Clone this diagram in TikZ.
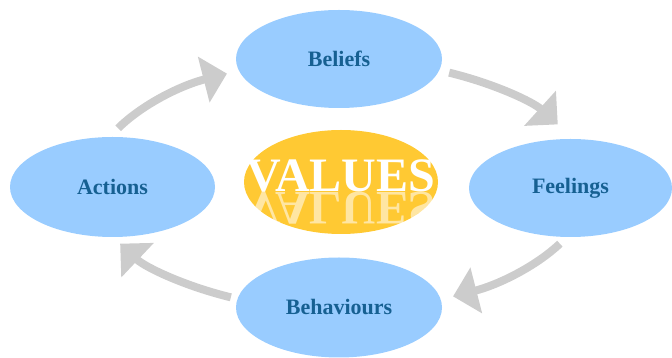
\documentclass[tikz,border=0pt]{standalone}
\usepackage{fontspec}
\setmainfont{Liberation Serif}
\usetikzlibrary{shapes.geometric,arrows.meta,calc,fadings}
\definecolor{boxblue}{RGB}{153,204,255}
\definecolor{lbltext}{RGB}{22,96,146}
\definecolor{valgold}{RGB}{255,201,51}
\definecolor{arrowgray}{RGB}{204,204,204}
\tikzset{
  stage/.style={ellipse, fill=boxblue, draw=none, inner sep=0pt, text=lbltext,
    font=\fontsize{22}{24}\selectfont\bfseries},
  cyc/.style={draw=arrowgray, line width=8pt, -{Triangle[length=24pt,width=46pt]}},
  valtext/.style={text=white, inner sep=0pt, font=\fontsize{48}{50}\selectfont\bfseries}
}
\begin{document}
\begin{tikzpicture}[x=1pt,y=1pt]
\useasboundingbox (0,0) rectangle (672,358);
% ring of stages
\node[stage, minimum width=206pt, minimum height=98pt] (beliefs) at (339,299) {Beliefs};
\node[stage, minimum width=205pt, minimum height=100pt] (actions) at (112.5,171) {Actions};
\node[stage, minimum width=203pt, minimum height=98pt] (feelings) at (570.5,170) {Feelings};
\node[stage, minimum width=206pt, minimum height=100pt] (behaviours) at (339,50.5) {Behaviours};
% centre
\node[ellipse, fill=valgold, inner sep=0pt, minimum width=194pt, minimum height=104pt] (values) at (341,176) {};
\coordinate (base) at (341,166);
\node[valtext, anchor=base] (valmain) at (base) {VALUES};
\begin{scope}[scope fading=south, fading transform={shift={(341,150)}, xscale=2.4, yscale=0.32}]
\node[valtext, anchor=north, text opacity=0.55] (valrefl) at (base) {\scalebox{1}[-1]{VALUES}};
\end{scope}
% cycle arrows (arcs of a common ellipse round the centre)
\coordinate (ctr) at (340,173);
\coordinate (a1) at ($(ctr)+(153:249 and 125)$);
\coordinate (a2) at ($(ctr)+(64:249 and 125)$);
\coordinate (a3) at ($(ctr)+(-28:249 and 125)$);
\coordinate (a4) at ($(ctr)+(-116:249 and 125)$);
\draw[cyc] (a1) arc[start angle=153, end angle=117, x radius=249, y radius=125];
\draw[cyc] (a2) arc[start angle=64, end angle=29, x radius=249, y radius=125];
\draw[cyc] (a3) arc[start angle=-28, end angle=-63, x radius=249, y radius=125];
\draw[cyc] (a4) arc[start angle=-116, end angle=-152, x radius=249, y radius=125];
\end{tikzpicture}
\end{document}
